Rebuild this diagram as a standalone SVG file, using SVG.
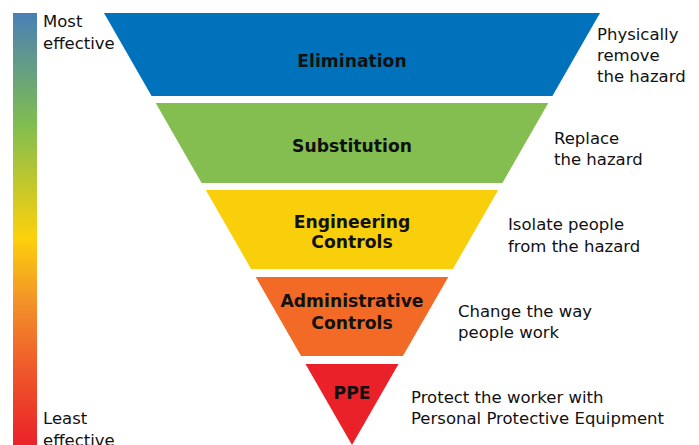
<svg xmlns="http://www.w3.org/2000/svg" width="699" height="445" viewBox="0 0 699 445">
<defs>
<linearGradient id="bar" x1="0" y1="0" x2="0" y2="1">
<stop offset="0" stop-color="#4a7fb6"/>
<stop offset="0.255" stop-color="#7fbd51"/>
<stop offset="0.52" stop-color="#fdd10c"/>
<stop offset="0.67" stop-color="#f3922a"/>
<stop offset="0.82" stop-color="#ef5a2a"/>
<stop offset="1" stop-color="#ea2229"/>
</linearGradient>
<style>
.lbl{font-family:"DejaVu Sans","Liberation Sans",sans-serif;font-weight:bold;font-size:17.2px;fill:#111;text-anchor:middle}
.txt{font-family:"DejaVu Sans","Liberation Sans",sans-serif;font-size:16.5px;fill:#111}
</style>
</defs>
<rect width="699" height="445" fill="#fff"/>
<g id="scale">
<rect x="13" y="13" width="24" height="432" fill="url(#bar)"/>
<text class="txt" x="43" y="27">Most</text>
<text class="txt" x="43" y="49">effective</text>
<text class="txt" x="43" y="424">Least</text>
<text class="txt" x="43" y="446">effective</text>
</g>
<g id="elimination">
<polygon points="104,13 600,13 552.4,96 151.6,96" fill="#0071bb"/>
<text class="lbl" x="352" y="67">Elimination</text>
<text class="txt" x="597" y="40">Physically</text>
<text class="txt" x="597" y="61">remove</text>
<text class="txt" x="597" y="82">the hazard</text>
</g>
<g id="substitution">
<polygon points="155.7,103 548.3,103 502.4,183 201.6,183" fill="#84bd50"/>
<text class="lbl" x="352" y="152">Substitution</text>
<text class="txt" x="554" y="144">Replace</text>
<text class="txt" x="554" y="165">the hazard</text>
</g>
<g id="engineering">
<polygon points="205.8,190 498.2,190 452.9,269 251.1,269" fill="#f9cf0c"/>
<text class="lbl" x="352" y="228">Engineering</text>
<text class="lbl" x="352" y="248">Controls</text>
<text class="txt" x="508" y="230">Isolate people</text>
<text class="txt" x="508" y="252">from the hazard</text>
</g>
<g id="administrative">
<polygon points="255.7,277 448.3,277 402.9,356 301.1,356" fill="#f26a26"/>
<text class="lbl" x="352" y="307">Administrative</text>
<text class="lbl" x="352" y="329">Controls</text>
<text class="txt" x="458" y="317">Change the way</text>
<text class="txt" x="458" y="338">people work</text>
</g>
<g id="ppe">
<polygon points="305.5,364 398.5,364 352,445" fill="#ea2128"/>
<text class="lbl" x="352" y="399">PPE</text>
<text class="txt" x="411" y="403">Protect the worker with</text>
<text class="txt" x="411" y="424">Personal Protective Equipment</text>
</g>
<g id="connectors"/>
</svg>
